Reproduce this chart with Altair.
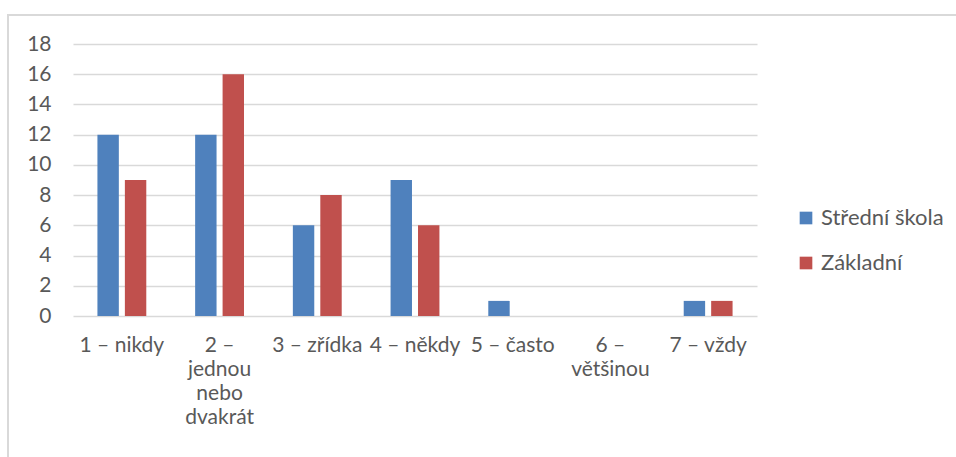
import altair as alt
import pandas as pd

# Response categories (x axis) and the two school groups
categories = [
    "1 – nikdy",
    "2 – jednou nebo dvakrát",
    "3 – zřídka",
    "4 – někdy",
    "5 – často",
    "6 – většinou",
    "7 – vždy",
]
series = ["Střední škola", "Základní"]
stredni = [12, 12, 6, 9, 1, 0, 1]
zakladni = [9, 16, 8, 6, 0, 0, 1]
colors = ["#4f81bd", "#c0504d"]

rows = []
for cat, a, b in zip(categories, stredni, zakladni):
    rows.append({"kategorie": cat, "skupina": series[0], "pocet": a})
    rows.append({"kategorie": cat, "skupina": series[1], "pocet": b})
df = pd.DataFrame(rows)

FONT = "Lato"
GRAY = "#595959"

# wrap the long tick labels onto several lines
label_expr = (
    "datum.label == '2 – jednou nebo dvakrát' ? ['2 –', 'jednou', 'nebo', 'dvakrát'] : "
    "datum.label == '6 – většinou' ? ['6 –', 'většinou'] : datum.label"
)

bars = alt.Chart(df).mark_bar().encode(
    x=alt.X(
        "kategorie:N",
        sort=categories,
        scale=alt.Scale(paddingInner=0.5, paddingOuter=0.25),
        axis=alt.Axis(
            title=None,
            labelAngle=0,
            labelExpr=label_expr,
            labelFont=FONT,
            labelFontSize=21,
            labelColor=GRAY,
            labelPadding=18,
            labelLineHeight=24,
            labelBaseline="top",
            domain=False,
            ticks=False,
            labelLimit=200,
        ),
    ),
    xOffset=alt.XOffset(
        "skupina:N",
        sort=series,
        scale=alt.Scale(paddingInner=0.22, paddingOuter=0),
    ),
    y=alt.Y(
        "pocet:Q",
        scale=alt.Scale(domain=[0, 18], nice=False),
        axis=alt.Axis(
            title=None,
            values=list(range(0, 19, 2)),
            labelFont=FONT,
            labelFontSize=21,
            labelColor=GRAY,
            labelPadding=22,
            domain=False,
            ticks=False,
            gridColor="#d9d9d9",
            gridWidth=1.5,
        ),
    ),
    color=alt.Color(
        "skupina:N",
        sort=series,
        scale=alt.Scale(domain=series, range=colors),
        legend=alt.Legend(
            title=None,
            orient="none",
            legendX=722,
            legendY=163,
            symbolType="square",
            symbolSize=160,
            symbolStrokeWidth=0,
            labelFont=FONT,
            labelFontSize=22,
            labelColor=GRAY,
            labelOffset=4,
            rowPadding=23,
        ),
    ),
)

# light frame around the chart
frame = alt.Chart(df).mark_rect(
    fill=None, stroke="#d9d9d9", strokeWidth=1.5
).encode(
    x=alt.value(-65), x2=alt.value(1000), y=alt.value(-29), y2=alt.value(600)
)

chart = alt.layer(frame, bars).properties(
    width=684,
    height=272,
    padding={"left": 73, "top": 44, "right": 199, "bottom": 141},
    autosize=alt.AutoSizeParams(type="none"),
    background="white",
).configure_view(stroke=None)

chart.save("out.html", embed_options={"renderer": "svg", "actions": False})
